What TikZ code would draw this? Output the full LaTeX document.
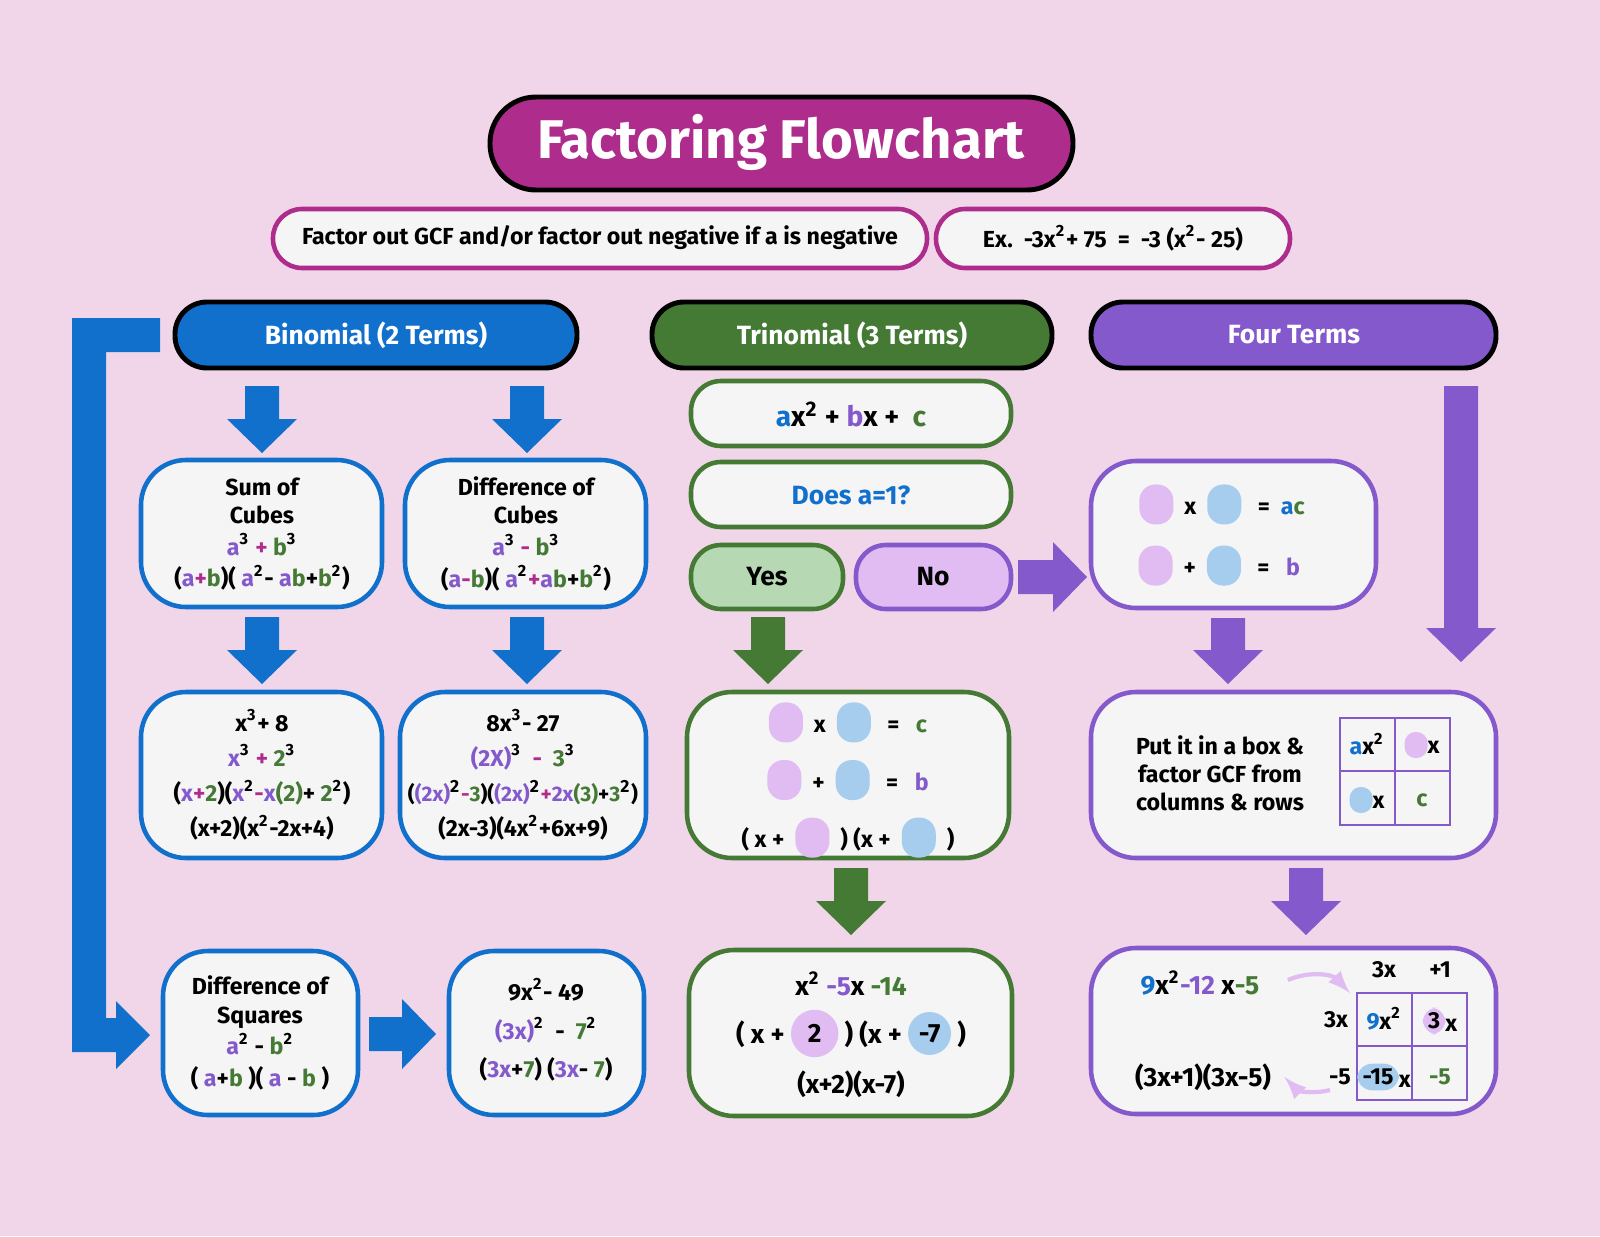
\documentclass[tikz,border=0pt]{standalone}
\usepackage{fontspec}
\setmainfont{Fira Sans}
\usepackage{tikz}

\definecolor{bgpink}{HTML}{F1D6EA}
\definecolor{magen}{HTML}{AE2C8C}
\definecolor{bblue}{HTML}{1170CC}
\definecolor{dgreen}{HTML}{457A35}
\definecolor{purp}{HTML}{8459CC}
\definecolor{lpurp}{HTML}{E0BCF3}
\definecolor{lblue}{HTML}{A6CDEE}
\definecolor{lgreen}{HTML}{B6D9B4}
\definecolor{boxfill}{HTML}{F5F5F5}

\newcommand{\cb}[1]{\textcolor{bblue}{#1}}
\newcommand{\cp}[1]{\textcolor{purp}{#1}}
\newcommand{\cg}[1]{\textcolor{dgreen}{#1}}
\newcommand{\cm}[1]{\textcolor{magen}{#1}}
\newcommand{\up}[1]{\textsuperscript{#1}}
\newcommand{\blob}[1]{\tikz[x=1cm,y=1cm,baseline=-0.1cm]\fill[#1,rounded corners=1.6mm] (0,-0.2) rectangle (0.34,0.2);}
\newcommand{\sblob}[1]{\tikz[x=1cm,y=1cm,baseline=-0.08cm]\fill[#1,rounded corners=1.1mm] (0,-0.13) rectangle (0.23,0.13);}

% block arrows: x, top, bottom / y, left, right
\newcommand{\dnarrow}[4]{\fill[#4] (#1-17,#2) -- (#1+17,#2) -- (#1+17,#3-34) -- (#1+35,#3-34)
  -- (#1,#3) -- (#1-35,#3-34) -- (#1-17,#3-34) -- cycle;}
\newcommand{\rtarrow}[4]{\fill[#4] (#2,#1-17) -- (#2,#1+17) -- (#3-34,#1+17) -- (#3-34,#1+35)
  -- (#3,#1) -- (#3-34,#1-35) -- (#3-34,#1-17) -- cycle;}

\begin{document}
\begin{tikzpicture}[x=0.01cm, y=-0.01cm, line width=1pt,
    font=\bfseries\fontsize{6.6}{8}\selectfont,
    head/.style={draw=black, line width=1.4pt, rounded corners=0.32cm},
    card/.style={draw=#1, fill=boxfill, line width=1.3pt, rounded corners=0.45cm},
    pill/.style={draw=magen, fill=boxfill, line width=1.3pt, rounded corners=0.29cm},
    chip/.style={fill=#1, rounded corners=0.15cm, inner sep=1.5pt, x=1cm, y=1cm}]
  % background
  \fill[bgpink] (0,0) rectangle (1600,1236);

  % title and first step
  \draw[head, fill=magen, rounded corners=0.46cm] (490,97) rectangle (1073,190);
  \node[white, font=\bfseries\fontsize{15.5}{18}\selectfont] (title) at (781,142) {Factoring Flowchart};
  \draw[pill] (273,209) rectangle (927,268);
  \node (gcf) at (600,238) {Factor out GCF and/or factor out negative if a is negative};
  \draw[pill] (936,209) rectangle (1290,268);
  \node (ex) at (1113,238) {Ex.\ \ -3x\up{2}+ 75 \ = \ -3 (x\up{2}- 25)};

  % headers
  \draw[head, fill=bblue] (175,302) rectangle (577,368);
  \node[white, font=\bfseries\fontsize{7.5}{9}\selectfont] (bin) at (376,335) {Binomial (2 Terms)};
  \draw[head, fill=dgreen] (652,302) rectangle (1052,368);
  \node[white, font=\bfseries\fontsize{7.5}{9}\selectfont] (tri) at (852,335) {Trinomial (3 Terms)};
  \draw[head, fill=purp] (1091,302) rectangle (1496,368);
  \node[white, font=\bfseries\fontsize{7.5}{9}\selectfont] (four) at (1294,335) {Four Terms};

  % binomial column
  \fill[bblue] (160,318) -- (72,318) -- (72,1052) -- (116,1052) -- (116,1069) -- (150,1035)
    -- (116,1001) -- (116,1018) -- (106,1018) -- (106,352) -- (160,352) -- cycle;
  \dnarrow{262}{386}{453}{bblue}
  \dnarrow{527}{386}{453}{bblue}
  \dnarrow{262}{617}{684}{bblue}
  \dnarrow{527}{617}{684}{bblue}
  \rtarrow{1034}{369}{436}{bblue}

  \draw[card=bblue] (141,460) rectangle (382,607);
  \node[align=center] (sumc) at (262,534) {Sum of\\Cubes\\[1pt]
    \cp{a}\up{3} \cm{+} \cg{b}\up{3}\\[1pt]
    (\cp{a}\cm{+}\cg{b})( \cp{a}\up{2}- \cp{a}\cg{b}+\cg{b}\up{2})};
  \draw[card=bblue] (405,460) rectangle (646,607);
  \node[align=center] (difc) at (526,534) {Difference of\\Cubes\\[1pt]
    \cp{a}\up{3} \cm{-} \cg{b}\up{3}\\[1pt]
    (\cp{a}\cm{-}\cg{b})( \cp{a}\up{2}\cm{+}\cp{a}\cg{b}+\cg{b}\up{2})};
  \draw[card=bblue] (141,692) rectangle (382,858);
  \node[align=center] (sumex) at (262,775) {x\up{3}+ 8\\[2pt]
    \cp{x}\up{3} \cm{+} \cg{2}\up{3}\\[2pt]
    (\cp{x}\cm{+}\cg{2})(\cp{x}\up{2}\cm{-}\cp{x}\cg{(2)}+ \cg{2}\up{2})\\[2pt]
    (x+2)(x\up{2}-2x+4)};
  \draw[card=bblue] (400,692) rectangle (646,858);
  \node[align=center] (difex) at (523,775) {8x\up{3}- 27\\[2pt]
    \cp{(2X)}\up{3} \ \cm{-} \ \cg{3}\up{3}\\[2pt]
    {\fontsize{6}{7}\selectfont(\cp{(2x)}\up{2}\cm{-}\cg{3})(\cp{(2x)}\up{2}\cm{+}\cp{2x}\cg{(3)}+\cg{3}\up{2})}\\[2pt]
    (2x-3)(4x\up{2}+6x+9)};
  \draw[card=bblue] (163,951) rectangle (358,1115);
  \node[align=center] (dsq) at (260,1033) {Difference of\\Squares\\[1pt]
    \cp{a}\up{2} - \cg{b}\up{2}\\[1pt]
    ( \cp{a}+\cg{b} )( \cp{a} - \cg{b} )};
  \draw[card=bblue] (449,951) rectangle (644,1115);
  \node[align=center] (dsqex) at (546,1030) {9x\up{2}- 49\\[3pt]
    \cp{(3x)}\up{2} \ - \ \cg{7}\up{2}\\[3pt]
    (\cp{3x}+\cg{7}) (\cp{3x}- \cg{7})};

  % trinomial column
  \draw[card=dgreen, rounded corners=0.3cm] (691,381) rectangle (1011,446);
  \node[font=\bfseries\fontsize{8}{9}\selectfont] (std) at (851,414) {\cb{a}x\up{2} + \cp{b}x + \ \cg{c}};
  \draw[card=dgreen, rounded corners=0.3cm] (691,462) rectangle (1011,527);
  \node[bblue, font=\bfseries\fontsize{7.5}{9}\selectfont] (q) at (851,495) {Does a=1?};
  \draw[dgreen, fill=lgreen, line width=1.3pt, rounded corners=0.3cm] (691,545) rectangle (843,609);
  \node[font=\bfseries\fontsize{7.5}{9}\selectfont] (yes) at (767,577) {Yes};
  \draw[purp, fill=lpurp, line width=1.3pt, rounded corners=0.3cm] (856,545) rectangle (1011,609);
  \node[font=\bfseries\fontsize{7.5}{9}\selectfont] (no) at (933,577) {No};
  \rtarrow{577}{1018}{1087}{purp}
  \dnarrow{768}{617}{684}{dgreen}
  \draw[card=dgreen] (687,692) rectangle (1009,858);
  \node[align=center] (mn) at (848,780) {\blob{lpurp} \ x \ \blob{lblue} \ \ = \ \ \cg{c}\\[4pt]
    \blob{lpurp} \ + \ \blob{lblue} \ \ = \ \ \cp{b}\\[4pt]
    ( x + \ \blob{lpurp} \ ) (x + \ \blob{lblue} \ )};
  \dnarrow{851}{868}{935}{dgreen}
  \draw[card=dgreen] (689,950) rectangle (1012,1116);
  \node[align=center, font=\bfseries\fontsize{7.5}{9}\selectfont] (triex) at (851,1035)
    {x\up{2} \cp{-5}x \cg{-14}\\[3pt]
    ( x + \tikz[baseline=-0.1cm]\node[chip=lpurp,circle,inner sep=2.5pt]{2}; ) (x + \tikz[baseline=-0.1cm]\node[chip=lblue,circle,inner sep=1.5pt]{-7}; )\\[3pt]
    (x+2)(x-7)};

  % four terms column
  \dnarrow{1461}{386}{662}{purp}
  \draw[card=purp] (1091,461) rectangle (1376,608);
  \node[align=center] (acb) at (1222,535) {\blob{lpurp} \ x \ \blob{lblue} \ \ = \ \cb{a}\cg{c}\\[5pt]
    \blob{lpurp} \ + \ \blob{lblue} \ \ = \ \ \cp{b}\ \ };
  \dnarrow{1228}{618}{684}{purp}
  \draw[card=purp] (1091,692) rectangle (1496,858);
  \node[align=center] (boxit) at (1220,773) {Put it in a box \&\\factor GCF from\\columns \& rows};
  \draw[purp, line width=0.8pt] (1340,718) rectangle (1450,825) (1395,718) -- (1395,825) (1340,771) -- (1450,771);
  \node (g11) at (1367,744) {\cb{a}x\up{2}};
  \node (g12) at (1422,745) {\sblob{lpurp}x};
  \node (g21) at (1367,800) {\sblob{lblue}x};
  \node (g22) at (1422,800) {\cg{c}};
  \dnarrow{1306}{868}{935}{purp}
  \draw[card=purp] (1091,948) rectangle (1496,1114);
  \node[font=\bfseries\fontsize{7.5}{9}\selectfont] (ex4) at (1200,983) {\cb{9}x\up{2}\cp{-12} x\cg{-5}};
  \node[font=\bfseries\fontsize{7.5}{9}\selectfont] (ans4) at (1203,1077) {(3x+1)(3x-5)};
  \draw[purp, line width=0.8pt] (1357,993) rectangle (1467,1100) (1412,993) -- (1412,1100) (1357,1046) -- (1467,1046);
  \node (c1) at (1384,970) {3x};
  \node (c2) at (1440,970) {+1};
  \node (r1) at (1336,1020) {3x};
  \node (r2) at (1340,1077) {-5};
  \node (b11) at (1384,1019) {\cb{9}x\up{2}};
  \node (b12) at (1440,1021) {\tikz[baseline=-0.1cm]\node[chip=lpurp]{3};x};
  \node (b21) at (1384,1077) {\tikz[baseline=-0.1cm]\node[chip=lblue]{-15};x};
  \node (b22) at (1440,1077) {\cg{-5}};
  \draw[lpurp, line width=1.2pt, -latex] (ex4.east) ++(15,-3) to[bend left=35] (1350,993);
  \draw[lpurp, line width=1.2pt, -latex] (1330,1090) to[bend left=30] (ans4.east);
\end{tikzpicture}
\end{document}
